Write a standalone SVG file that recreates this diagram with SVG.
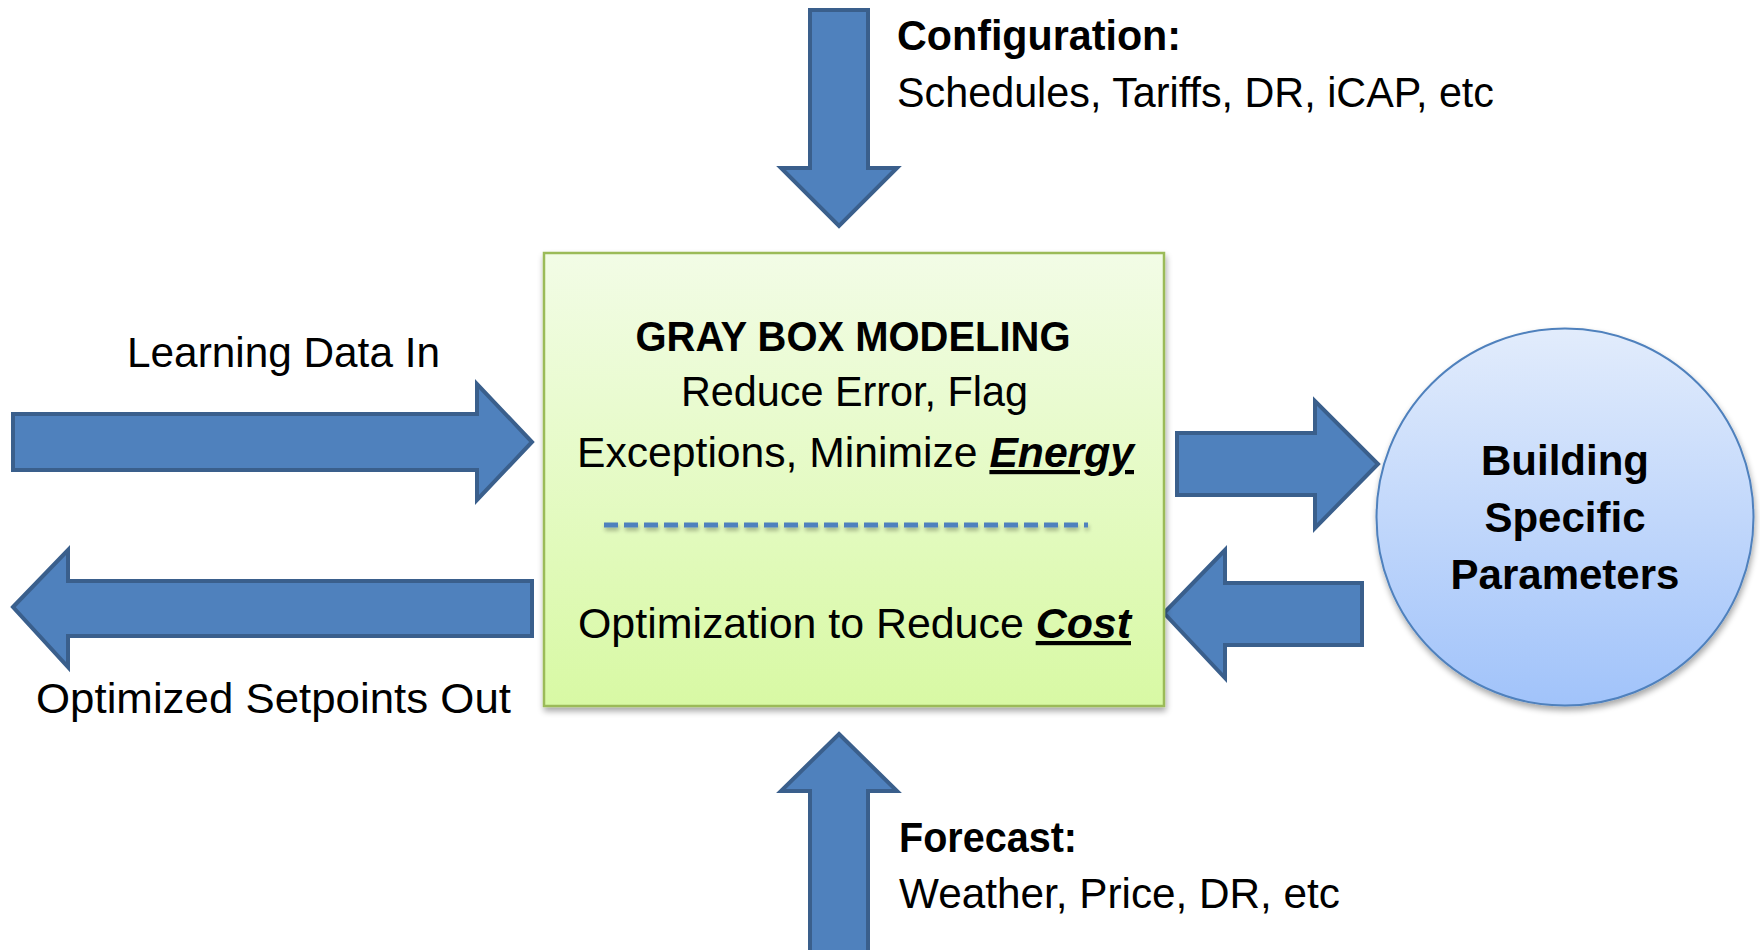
<svg xmlns="http://www.w3.org/2000/svg" width="1760" height="950" viewBox="0 0 1760 950">
  <defs>
    <linearGradient id="boxFill" x1="0" y1="0" x2="0" y2="1">
      <stop offset="0" stop-color="#f2fce6"/>
      <stop offset="1" stop-color="#d8f9a4"/>
    </linearGradient>
    <linearGradient id="circleFill" x1="0" y1="0" x2="0" y2="1">
      <stop offset="0" stop-color="#e2ecfc"/>
      <stop offset="1" stop-color="#a1c3fa"/>
    </linearGradient>
    <filter id="shadow" x="-10%" y="-10%" width="120%" height="125%">
      <feGaussianBlur in="SourceAlpha" stdDeviation="3"/>
      <feOffset dx="1" dy="4" result="b"/>
      <feComponentTransfer><feFuncA type="linear" slope="0.35"/></feComponentTransfer>
      <feMerge><feMergeNode/><feMergeNode in="SourceGraphic"/></feMerge>
    </filter>
    <filter id="lineShadow" filterUnits="userSpaceOnUse" x="590" y="510" width="510" height="35">
      <feGaussianBlur in="SourceAlpha" stdDeviation="2"/>
      <feOffset dx="1" dy="3"/>
      <feComponentTransfer><feFuncA type="linear" slope="0.3"/></feComponentTransfer>
      <feMerge><feMergeNode/><feMergeNode in="SourceGraphic"/></feMerge>
    </filter>
  </defs>
  <style>
    .arrow { fill: #4f81bd; stroke: #3a5f8c; stroke-width: 4; stroke-linejoin: miter; }
    .t { font-family: "Liberation Sans", Arial, sans-serif; font-size: 42px; fill: #000; }
    .b { font-weight: bold; }
    .em { font-weight: bold; font-style: italic; text-decoration: underline; }
  </style>
  <rect width="1760" height="950" fill="#ffffff"/>

  <g id="connectors">
    <path id="arrow-config" class="arrow" d="M810,10 H868 V168 H897 L839,226 L781,168 H810 Z"/>
    <path id="arrow-forecast" class="arrow" d="M839,734 L897,791 H868 V953 H810 V791 H781 Z"/>
    <path id="arrow-learning" class="arrow" d="M13,414 H477 V384 L532,442 L477,500 V470 H13 Z"/>
    <path id="arrow-setpoints" class="arrow" d="M13,607 L68,550 V581 H532 V636 H68 V667 Z"/>
    <path id="arrow-to-params" class="arrow" d="M1177,433 H1315 V401 L1378,464 L1315,528 V495 H1177 Z"/>
    <path id="arrow-from-params" class="arrow" d="M1164,613 L1225,550 V583 H1362 V645 H1225 V678 Z"/>
  </g>

  <g id="gray-box">
    <rect x="544" y="253" width="620" height="453" fill="url(#boxFill)" stroke="#9bbb59" stroke-width="2.5" filter="url(#shadow)"/>
    <text class="t b" x="853" y="351" text-anchor="middle" textLength="435" lengthAdjust="spacingAndGlyphs">GRAY BOX MODELING</text>
    <text class="t" x="854.5" y="406" text-anchor="middle" textLength="347" lengthAdjust="spacingAndGlyphs">Reduce Error, Flag</text>
    <text class="t" x="577" y="467" textLength="557" lengthAdjust="spacingAndGlyphs">Exceptions, Minimize <tspan class="em">Energy</tspan></text>
    <path d="M604,525 H1088" fill="none" stroke="#4f81bd" stroke-width="5" stroke-dasharray="14 6" filter="url(#lineShadow)"/>
    <text class="t" x="578" y="638" textLength="553" lengthAdjust="spacingAndGlyphs">Optimization to Reduce <tspan class="em">Cost</tspan></text>
  </g>

  <g id="building-params">
    <circle cx="1565" cy="517" r="188.5" fill="url(#circleFill)" stroke="#4f81bd" stroke-width="2" filter="url(#shadow)"/>
    <text class="t b" x="1565" y="475" text-anchor="middle" font-size="41">Building</text>
    <text class="t b" x="1565" y="532" text-anchor="middle" font-size="41">Specific</text>
    <text class="t b" x="1565" y="589" text-anchor="middle" font-size="41">Parameters</text>
  </g>

  <g id="label-configuration">
    <text class="t b" x="897" y="50" textLength="284" lengthAdjust="spacingAndGlyphs">Configuration:</text>
    <text class="t" x="897" y="107" textLength="597" lengthAdjust="spacingAndGlyphs">Schedules, Tariffs, DR, iCAP, etc</text>
  </g>

  <g id="label-learning">
    <text class="t" x="127" y="367" textLength="313" lengthAdjust="spacingAndGlyphs">Learning Data In</text>
  </g>

  <g id="label-setpoints">
    <text class="t" x="36" y="713" textLength="475" lengthAdjust="spacingAndGlyphs">Optimized Setpoints Out</text>
  </g>

  <g id="label-forecast">
    <text class="t b" x="899" y="852" textLength="178" lengthAdjust="spacingAndGlyphs">Forecast:</text>
    <text class="t" x="899" y="908" textLength="441" lengthAdjust="spacingAndGlyphs">Weather, Price, DR, etc</text>
  </g>
</svg>
